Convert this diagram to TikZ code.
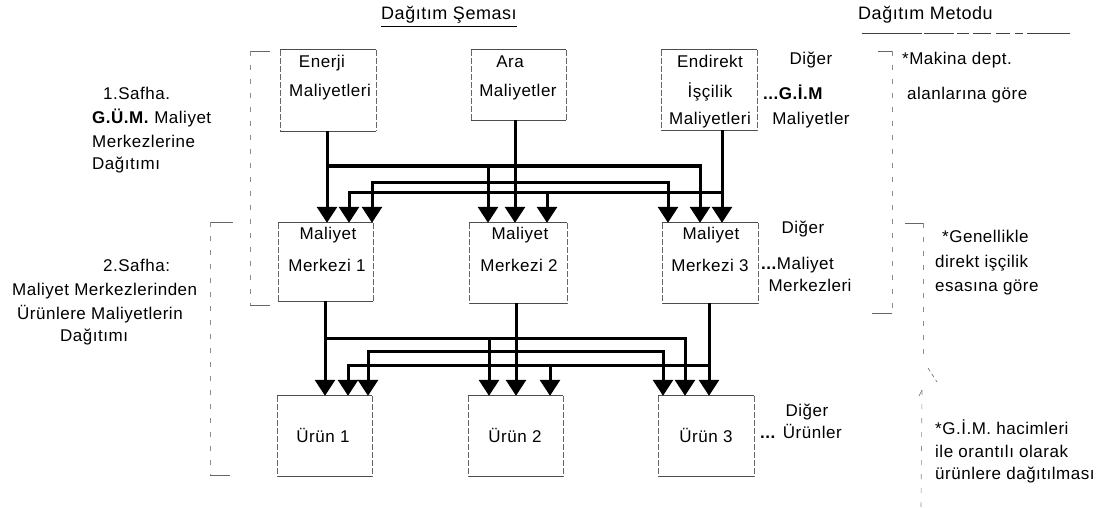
\documentclass[tikz,border=0pt]{standalone}
\usepackage{fontspec}
\setmainfont[LetterSpace=3]{Liberation Sans}
\usetikzlibrary{arrows.meta}

\begin{document}
\begin{tikzpicture}[x=1pt,y=-1pt,
  >={Triangle[width=20pt,length=16pt]},
  lbl/.style={inner sep=0pt, text height=12pt, text depth=3pt, font=\fontsize{17}{20}\selectfont},
  ttl/.style={lbl, font=\fontsize{18}{21}\selectfont},
  lw/.style={lbl, anchor=west},
  box/.style={draw=none, inner sep=0pt, minimum width=#1},
  boxtb/.style={line width=0.7pt, black!70},
  boxside/.style={line width=0.6pt, black!60, dash pattern=on 6pt off 2pt},
  brk/.style={line width=0.6pt, black!60},
  brkd/.style={brk, black!45, dash pattern=on 5pt off 9pt},
  flow/.style={line width=3pt, black}]

\useasboundingbox (0,0) rectangle (1103,508);

% headings
\node[ttl, anchor=west] (t1) at (381,15) {Dağıtım Şeması};
\draw[line width=0.7pt] (t1.south west) ++(0,4) -- ([yshift=-4pt]t1.south east);
\node[ttl, anchor=west] (t2) at (858,15) {Dağıtım Metodu};
\coordinate (u0) at (862,33);
\coordinate (u9) at (1070,33);
\draw[line width=0.7pt, black!75, dash pattern=on 60pt off 2pt on 30pt off 3pt on 12pt off 4pt on 18pt off 5pt on 14pt off 5pt on 8pt off 4pt] (u0) -- (u9);

% phase texts on the left
\node[lw] (p1a) at (103,95) {1.Safha.};
\node[lw] (p1b) at (92,119) {\textbf{G.Ü.M.} Maliyet};
\node[lw] (p1c) at (92,143) {Merkezlerine};
\node[lw] (p1d) at (92,165) {Dağıtımı};
\node[lw] (p2a) at (103,267) {2.Safha:};
\node[lw] (p2b) at (12,291) {Maliyet Merkezlerinden};
\node[lw] (p2c) at (17,315) {Ürünlere Maliyetlerin};
\node[lw] (p2d) at (60,337) {Dağıtımı};

% boxes
\node[box=96pt, minimum height=81pt] (e) at (328,90.5) {};
\node[box=95pt, minimum height=70pt] (a) at (518.5,85) {};
\node[box=96pt, minimum height=80pt] (i) at (709,90) {};
\node[box=95pt, minimum height=78pt] (m1) at (325.5,262) {};
\node[box=98pt, minimum height=80pt] (m2) at (518,263) {};
\node[box=96pt, minimum height=80pt] (m3) at (710,263) {};
\node[box=95pt, minimum height=80pt] (u1) at (324.5,436) {};
\node[box=95pt, minimum height=80pt] (u2) at (515.5,436) {};
\node[box=96pt, minimum height=80pt] (u3) at (706,436) {};
\foreach \n in {e,a,i,m1,m2,m3,u1,u2,u3} {
  \draw[boxtb] (\n.north west) -- (\n.north east) (\n.south west) -- (\n.south east);
  \draw[boxside] (\n.north west) -- (\n.south west) (\n.north east) -- (\n.south east);
}

% box texts
\node[lbl] (e1) at (322,63) {Enerji};
\node[lbl] (e2) at (330,92) {Maliyetleri};
\node[lbl] (a1) at (510,63) {Ara};
\node[lbl] (a2) at (518,92) {Maliyetler};
\node[lbl] (i1) at (710,63) {Endirekt};
\node[lbl] (i2) at (710,93) {İşçilik};
\node[lbl] (i3) at (710,120) {Maliyetleri};
\node[lbl] (m1a) at (328,235) {Maliyet};
\node[lbl] (m1b) at (327,267) {Merkezi 1};
\node[lbl] (m2a) at (520,235) {Maliyet};
\node[lbl] (m2b) at (519,267) {Merkezi 2};
\node[lbl] (m3a) at (711,235) {Maliyet};
\node[lbl] (m3b) at (710,267) {Merkezi 3};
\node[lbl] (u1a) at (323,438) {Ürün 1};
\node[lbl] (u2a) at (515,438) {Ürün 2};
\node[lbl] (u3a) at (706,438) {Ürün 3};

% "other" items beside each row
\node[lbl] (d1a) at (811,60) {Diğer};
\node[lw] (d1b) at (763,95) {\textbf{...G.İ.M}};
\node[lbl] (d1c) at (811,120) {Maliyetler};
\node[lbl] (d2a) at (803,229) {Diğer};
\node[lw] (d2b) at (761,265) {\textbf{...}Maliyet};
\node[lbl] (d2c) at (810,287) {Merkezleri};
\node[lbl] (d3a) at (807,412) {Diğer};
\node[lw] (d3b) at (760,434) {\textbf{...} Ürünler};

% method texts on the right
\node[lw] (r1a) at (902,60) {*Makina dept.};
\node[lw] (r1b) at (907,95) {alanlarına göre};
\node[lw] (r2a) at (942,238) {*Genellikle};
\node[lw] (r2b) at (935,263) {direkt işçilik};
\node[lw] (r2c) at (935,287) {esasına göre};
\node[lw] (r3a) at (935,430) {*G.İ.M. hacimleri};
\node[lw] (r3b) at (935,453) {ile orantılı olarak};
\node[lw] (r3c) at (935,475) {ürünlere dağıtılması};

% brackets
\draw[brk] (270,51) -- (250,51);
\draw[brkd] (250,51) -- (250,305);
\draw[brk] (250,305) -- (270,305);
\draw[brk] (233,222) -- (210,222);
\draw[brkd] (210,222) -- (210,475);
\draw[brk] (210,475) -- (230,475);
\draw[brk] (878,51) -- (892,51);
\draw[brkd] (892,51) -- (892,313);
\draw[brk] (892,313) -- (872,313);
\draw[brk] (905,223) -- (923,223);
\draw[brkd] (923,223) -- (923,362);
\draw[brk, dash pattern=on 4pt off 3pt] (928,368) -- (937,382);
\draw[brk] (919,396) -- (922,390);
\draw[brkd] (922,390) -- (921,508);

% stage 1 distribution lines
\coordinate (A1) at (327,166);
\coordinate (A2) at (488,166);
\coordinate (A3) at (700,166);
\coordinate (B1) at (372,182);
\coordinate (B2) at (515,182);
\coordinate (B3) at (668,182);
\coordinate (C1) at (349,192);
\coordinate (C2) at (547,192);
\coordinate (C3) at (722,192);
\draw[flow,->] (e.south -| A1) -- (A1 |- m1.north);
\draw[flow,->] (A1) -- (A3) -- (A3 |- m3.north);
\draw[flow,->] (A2) -- (A2 |- m2.north);
\draw[flow,->] (a.south -| B2) -- (B2 |- m2.north);
\draw[flow,<->] (B1 |- m1.north) -- (B1) -- (B3) -- (B3 |- m3.north);
\draw[flow,->] (i.south -| C3) -- (C3 |- m3.north);
\draw[flow,->] (C3) -- (C1) -- (C1 |- m1.north);
\draw[flow,->] (C2) -- (C2 |- m2.north);

% stage 2 distribution lines
\coordinate (D1) at (325,338);
\coordinate (D2) at (489,338);
\coordinate (D3) at (685,338);
\coordinate (E1) at (368,351);
\coordinate (E2) at (516,351);
\coordinate (E3) at (663,351);
\coordinate (F1) at (348,365);
\coordinate (F2) at (550,365);
\coordinate (F3) at (709,365);
\draw[flow,->] (m1.south -| D1) -- (D1 |- u1.north);
\draw[flow,->] (D1) -- (D3) -- (D3 |- u3.north);
\draw[flow,->] (D2) -- (D2 |- u2.north);
\draw[flow,->] (m2.south -| E2) -- (E2 |- u2.north);
\draw[flow,<->] (E1 |- u1.north) -- (E1) -- (E3) -- (E3 |- u3.north);
\draw[flow,->] (m3.south -| F3) -- (F3 |- u3.north);
\draw[flow,->] (F3) -- (F1) -- (F1 |- u1.north);
\draw[flow,->] (F2) -- (F2 |- u2.north);
\end{tikzpicture}
\end{document}
